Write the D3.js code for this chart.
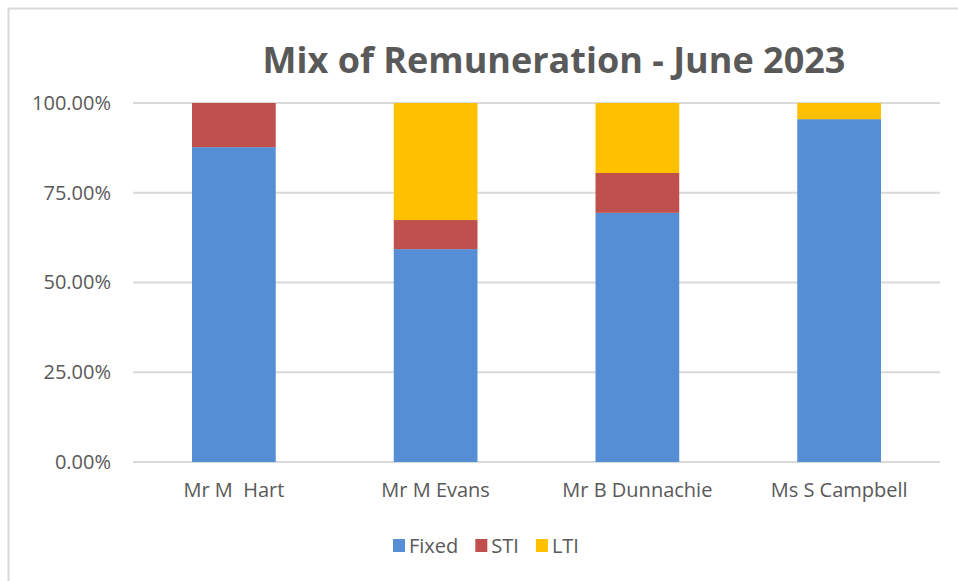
<!DOCTYPE html>
<html>
<head>
<meta charset="utf-8">
<script src="https://cdn.jsdelivr.net/npm/d3@7"></script>
<style>
  body { margin: 0; background: #fff; }
  svg text { font-family: "Open Sans", Lato, sans-serif; fill: #595959; }
</style>
</head>
<body>
<div class="chart"></div>
<script>
var svgWidth = 958;
var svgHeight = 581;

// chart values
var people = ["Mr M  Hart", "Mr M Evans", "Mr B Dunnachie", "Ms S Campbell"];
var seriesNames = ["Fixed", "STI", "LTI"];
var fixed = [0.877, 0.593, 0.694, 0.955];
var sti = [0.123, 0.081, 0.111, 0.0];
var lti = [0.0, 0.326, 0.195, 0.045];
var yTicks = [0, 0.25, 0.5, 0.75, 1];
var colors = ["#558ed5", "#c0504d", "#ffc000"];

var margin = { top: 103, right: 18, bottom: 119, left: 133 };
var width = svgWidth - margin.left - margin.right;
var height = svgHeight - margin.top - margin.bottom;

var svg = d3.select(".chart")
  .append("svg")
  .attr("width", svgWidth)
  .attr("height", svgHeight);

// chart area border (only top and left show in the picture)
svg.append("path")
  .attr("d", "M8.5,581 V8.5 H958")
  .attr("fill", "none")
  .attr("stroke", "#d9d9d9")
  .attr("stroke-width", 2);

var chart = svg.append("g")
  .attr("transform", "translate(" + margin.left + "," + margin.top + ")");

var rows = people.map(function(p, i) {
  return { name: p, Fixed: fixed[i], STI: sti[i], LTI: lti[i] };
});

var stacked = d3.stack().keys(seriesNames)(rows);

var xScale = d3.scaleBand()
  .domain(people)
  .range([0, width])
  .paddingInner(0.585)
  .paddingOuter(0.2925);

var yScale = d3.scaleLinear()
  .domain([0, 1])
  .range([height, 0]);

// gridlines
chart.append("g")
  .selectAll("line")
  .data(yTicks)
  .enter().append("line")
    .attr("x1", 0)
    .attr("x2", width)
    .attr("y1", function(d) { return yScale(d); })
    .attr("y2", function(d) { return yScale(d); })
    .attr("stroke", "#d9d9d9")
    .attr("stroke-width", 2);

var leftAxis = d3.axisLeft(yScale)
  .tickValues(yTicks)
  .tickFormat(d3.format(".2%"))
  .tickSize(0)
  .tickPadding(22);

chart.append("g")
  .call(leftAxis)
  .call(function(g) { g.select(".domain").remove(); })
  .selectAll("text")
    .style("font-size", "20px")
    .attr("fill", "#595959");

// bars
chart.selectAll(".series")
  .data(stacked)
  .enter().append("g")
    .attr("class", "series")
    .attr("fill", function(d, i) { return colors[i]; })
  .selectAll("rect")
  .data(function(d) { return d; })
  .enter().append("rect")
    .attr("x", function(d) { return xScale(d.data.name); })
    .attr("width", xScale.bandwidth())
    .attr("y", function(d) { return yScale(d[1]); })
    .attr("height", function(d) { return yScale(d[0]) - yScale(d[1]); });

var bottomAxis = d3.axisBottom(xScale).tickSize(0).tickPadding(21);

chart.append("g")
  .attr("transform", "translate(0," + height + ")")
  .call(bottomAxis)
  .call(function(g) { g.select(".domain").remove(); })
  .selectAll("text")
    .style("font-size", "20px")
    .style("white-space", "pre")
    .attr("fill", "#595959");

// title
svg.append("text")
  .attr("x", 554)
  .attr("y", 73)
  .attr("text-anchor", "middle")
  .style("font-size", "36px")
  .style("font-weight", "bold")
  .text("Mix of Remuneration - June 2023");

// legend
var legend = svg.append("g").attr("transform", "translate(393,546)");
var lx = 0;
seriesNames.forEach(function(name, i) {
  var item = legend.append("g").attr("transform", "translate(" + lx + ",0)");
  item.append("rect")
    .attr("x", 0).attr("y", -7)
    .attr("width", 12).attr("height", 13)
    .attr("fill", colors[i]);
  var t = item.append("text")
    .attr("x", 16).attr("y", 0)
    .attr("dy", "0.35em")
    .style("font-size", "20px")
    .text(name);
  lx += 16 + t.node().getComputedTextLength() + 17;
});
</script>
</body>
</html>
